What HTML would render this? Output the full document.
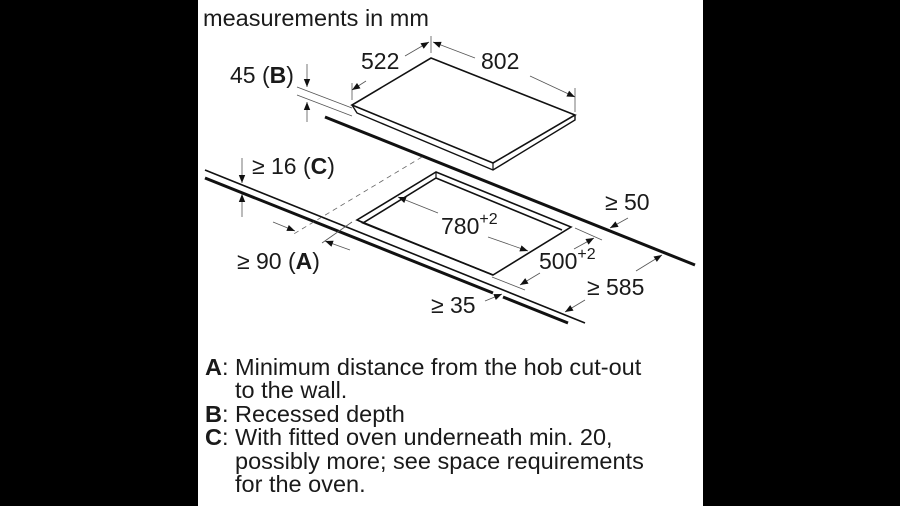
<!DOCTYPE html>
<html><head><meta charset="utf-8"><style>
html,body{margin:0;padding:0;background:#000;}
svg{display:block;}
text{font-family:"Liberation Sans",sans-serif;fill:#1a1a1a;}
</style></head><body>
<svg width="900" height="506" viewBox="0 0 900 506" xmlns="http://www.w3.org/2000/svg">
<defs>
<marker id="ar" viewBox="0 0 10 10" refX="10" refY="5" markerWidth="9" markerHeight="8" orient="auto-start-reverse" markerUnits="userSpaceOnUse"><path d="M0,1 L10,5 L0,9 z" fill="#111"/></marker>
</defs>
<rect x="198" y="0" width="505" height="506" fill="#fff"/>
<text x="203" y="26" font-size="23.5">measurements in mm</text>

<g stroke="#111" fill="none">
<polygon points="431,58 575,115 493,163 352,105" stroke-width="1.6" fill="#fff"/>
<polyline points="352,105 357,113 493,170 575,120 575,115" stroke-width="1.4"/>
<line x1="493" y1="163" x2="493" y2="170" stroke-width="1.2"/>
<line x1="325" y1="117" x2="695" y2="265" stroke-width="3"/>
<line x1="205" y1="170" x2="585" y2="323" stroke-width="1.6"/>
<line x1="205" y1="178" x2="493" y2="293" stroke-width="3"/>
<line x1="503" y1="297" x2="568" y2="323" stroke-width="3"/>
<polygon points="436,172 571,227 493,275 357,220" stroke-width="1.6"/>
<polyline points="562,230 436,178 363,223 493,275" stroke-width="1.6"/>
<line x1="436" y1="172" x2="436" y2="178" stroke-width="1.2"/>
<line x1="357" y1="220" x2="363" y2="223" stroke-width="1.2"/>
<line x1="422" y1="157" x2="292" y2="235" stroke-width="0.8" stroke="#666" stroke-dasharray="5,4"/>
</g>

<g stroke="#555" stroke-width="0.8" fill="none">
<line x1="352" y1="83" x2="352" y2="100"/>
<line x1="431" y1="36" x2="431" y2="53"/>
<line x1="575" y1="88" x2="575" y2="112"/>
<line x1="297" y1="87" x2="352" y2="108"/>
<line x1="297" y1="95" x2="352" y2="116"/>
<line x1="322" y1="243" x2="352" y2="222"/>
<line x1="575" y1="228" x2="602" y2="240"/>
<line x1="492" y1="277" x2="525" y2="290"/>
<line x1="352" y1="90" x2="366" y2="81" marker-start="url(#ar)"/>
<line x1="405" y1="56" x2="429" y2="42" marker-end="url(#ar)"/>
<line x1="433" y1="42" x2="475" y2="58" marker-start="url(#ar)"/>
<line x1="530" y1="76" x2="575" y2="97" marker-end="url(#ar)"/>
<line x1="307" y1="64" x2="307" y2="87" marker-end="url(#ar)"/>
<line x1="307" y1="122" x2="307" y2="102" marker-end="url(#ar)"/>
<line x1="242" y1="158" x2="242" y2="183" marker-end="url(#ar)"/>
<line x1="242" y1="217" x2="242" y2="194" marker-end="url(#ar)"/>
<line x1="273" y1="222" x2="295" y2="231" marker-end="url(#ar)"/>
<line x1="350" y1="250" x2="325" y2="241" marker-end="url(#ar)"/>
<line x1="438" y1="213" x2="398" y2="197" marker-end="url(#ar)"/>
<line x1="488" y1="237" x2="528" y2="251" marker-end="url(#ar)"/>
<line x1="574" y1="249" x2="594" y2="238" marker-end="url(#ar)"/>
<line x1="540" y1="273" x2="520" y2="285" marker-end="url(#ar)"/>
<line x1="628" y1="218" x2="610" y2="228" marker-end="url(#ar)"/>
<line x1="636" y1="271" x2="662" y2="255" marker-end="url(#ar)"/>
<line x1="585" y1="300" x2="565" y2="312" marker-end="url(#ar)"/>
<line x1="485" y1="301" x2="502" y2="294" marker-end="url(#ar)"/>
</g>

<g font-size="23">
<text x="361" y="69">522</text>
<text x="481" y="69">802</text>
<text x="230" y="83">45 (<tspan font-weight="bold">B</tspan>)</text>
<text x="252" y="174">≥ 16 (<tspan font-weight="bold">C</tspan>)</text>
<text x="237" y="269">≥ 90 (<tspan font-weight="bold">A</tspan>)</text>
<text x="605" y="210">≥ 50</text>
<text x="441" y="234">780<tspan font-size="16" dy="-10">+2</tspan></text>
<text x="539" y="269">500<tspan font-size="16" dy="-10">+2</tspan></text>
<text x="587" y="295">≥ 585</text>
<text x="431" y="313">≥ 35</text>
</g>

<g font-size="23.5">
<text x="205" y="375"><tspan font-weight="bold">A</tspan>: Minimum distance from the hob cut-out</text>
<text x="235" y="398">to the wall.</text>
<text x="205" y="422"><tspan font-weight="bold">B</tspan>: Recessed depth</text>
<text x="205" y="445"><tspan font-weight="bold">C</tspan>: With fitted oven underneath min. 20,</text>
<text x="235" y="469">possibly more; see space requirements</text>
<text x="235" y="492">for the oven.</text>
</g>
</svg>
</body></html>
